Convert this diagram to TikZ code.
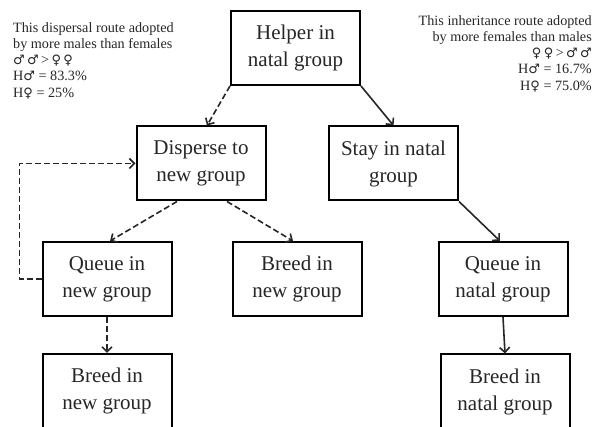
\documentclass[tikz,border=0pt]{standalone}
\usepackage{fontspec}
\setmainfont{Liberation Serif}
\newfontfamily\symfont{DejaVu Sans}
\newcommand{\malesym}{{\symfont\fontsize{13}{16.5}\selectfont ♂}}
\newcommand{\femalesym}{{\symfont\fontsize{13}{16.5}\selectfont ♀}}
\usepackage{tikz}
\usetikzlibrary{arrows,arrows.meta,positioning}

\begin{document}
\begin{tikzpicture}[
    x=1pt, y=1pt,
    node distance=115.5pt,
    box/.style={rectangle, draw, line width=2pt, minimum width=129pt, minimum height=74pt,
        align=center, font=\fontsize{21}{27}\selectfont, text=black!85},
    note/.style={inner sep=0pt, font=\fontsize{14.2}{16.3}\selectfont, text=black!85},
    arrow/.style={-{Straight Barb[length=5pt,width=10pt]}, line width=1.6pt, black!85},
    darrow/.style={arrow, dash pattern=on 6pt off 3pt}
]
    \useasboundingbox (0,0) rectangle (598,-427);

    % boxes
    \node[box] (helper) at (295.5,-48) {Helper in\\natal group};
    \node[box, below of=helper, xshift=-94.5pt] (disperse) {Disperse to\\new group};
    \node[box, below of=helper, xshift=98pt] (stay) {Stay in natal\\group};
    \node[box, below of=disperse, xshift=-94pt] (queuenew) {Queue in\\new group};
    \node[box, below of=disperse, xshift=96pt] (breedmid) {Breed in\\new group};
    \node[box, below of=stay, xshift=109.5pt] (queuenatal) {Queue in\\natal group};
    \node[box, below of=queuenew, yshift=3.5pt] (breednew) {Breed in\\new group};
    \node[box, below of=queuenatal, xshift=2pt, yshift=3pt] (breednatal) {Breed in\\natal group};

    % notes
    \node[note, anchor=north west, align=left] (leftnote) at (13,-22)
        {This dispersal route adopted\\by more males than females\\\malesym\,\malesym\,>\,\femalesym\,\femalesym\\H\malesym\ = 83.3\%\\H\femalesym\ = 25\%};
    \node[note, anchor=north east, align=right] (rightnote) at (592,-15)
        {This inheritance route adopted\\by more females than males\\\femalesym\,\femalesym\,>\,\malesym\,\malesym\\H\malesym\ = 16.7\%\\H\femalesym\ = 75.0\%};

    % dispersal route
    \draw[darrow] (helper.south west) -- ([xshift=6pt]disperse.north);
    \draw[darrow] ([xshift=-24pt]disperse.south) -- ([xshift=3pt]queuenew.north);
    \draw[darrow] ([xshift=26pt]disperse.south) -- ([xshift=-4pt]breedmid.north);
    \draw[darrow] (queuenew.west) -- ++(-22pt,0) |- (disperse.west);
    \draw[darrow] (queuenew.south) -- (breednew.north);

    % inheritance route
    \draw[arrow] (helper.south east) -- (stay.north);
    \draw[arrow] (stay.south east) -- ([xshift=-3pt]queuenatal.north);
    \draw[arrow] (queuenatal.south) -- (breednatal.north);
\end{tikzpicture}
\end{document}
